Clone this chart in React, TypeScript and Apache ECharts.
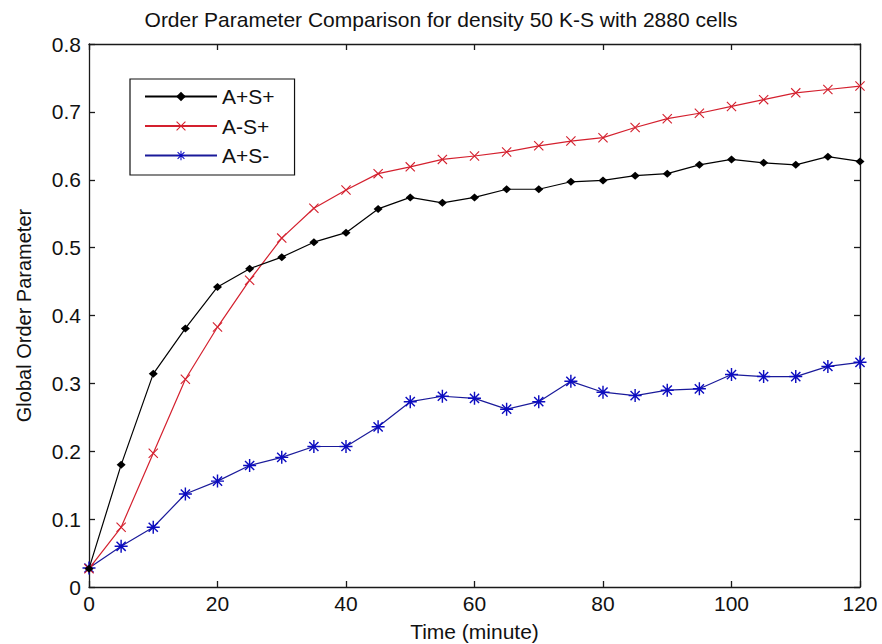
import React, { useEffect, useRef } from "react";
import * as echarts from "echarts";

const times = [0, 5, 10, 15, 20, 25, 30, 35, 40, 45, 50, 55, 60, 65, 70, 75, 80, 85, 90, 95, 100, 105, 110, 115, 120];
const seriesNames = ["A+S+", "A-S+", "A+S-"];
const apsp = [0.027, 0.18, 0.314, 0.381, 0.442, 0.469, 0.486, 0.508, 0.522, 0.557, 0.574, 0.566, 0.574, 0.586, 0.586, 0.597, 0.599, 0.606, 0.609, 0.622, 0.63, 0.625, 0.622, 0.634, 0.627];
const amsp = [0.027, 0.088, 0.197, 0.306, 0.383, 0.452, 0.514, 0.558, 0.585, 0.609, 0.619, 0.63, 0.635, 0.641, 0.65, 0.657, 0.662, 0.677, 0.69, 0.698, 0.708, 0.718, 0.728, 0.733, 0.738];
const apsm = [0.028, 0.06, 0.088, 0.137, 0.156, 0.179, 0.191, 0.207, 0.207, 0.236, 0.273, 0.281, 0.278, 0.262, 0.273, 0.303, 0.287, 0.282, 0.29, 0.292, 0.313, 0.31, 0.31, 0.325, 0.331];
const xTicks = [0, 20, 40, 60, 80, 100, 120];
const yTicks = [0, 0.1, 0.2, 0.3, 0.4, 0.5, 0.6, 0.7, 0.8];

const FONT = "'Liberation Sans', Arial, Helvetica, sans-serif";

function barsPath(angles: number[], R: number, t: number): string {
  const off = R + 1;
  let d = "path://";
  for (const a of angles) {
    const r = (a * Math.PI) / 180;
    const dx = Math.cos(r), dy = Math.sin(r);
    const nx = -dy, ny = dx;
    const h = t / 2;
    const pts = [
      [-R * dx - h * nx, -R * dy - h * ny],
      [R * dx - h * nx, R * dy - h * ny],
      [R * dx + h * nx, R * dy + h * ny],
      [-R * dx + h * nx, -R * dy + h * ny],
    ];
    d += "M" + pts.map((p) => (p[0] + off).toFixed(3) + "," + (p[1] + off).toFixed(3)).join("L") + "Z";
  }
  return d;
}

const xMarker = barsPath([45, 135], 10, 1.7);
const starMarker = barsPath([0, 45, 90, 135], 10, 2.2);

export default function App() {
  const ref = useRef<HTMLDivElement>(null);
  useEffect(() => {
    if (!ref.current) return;
    const chart = echarts.init(ref.current, undefined, { renderer: "svg" });
    const axisLine = { color: "#1a1a1a", width: 1.3 };
    const xBase = {
      type: "value" as const,
      min: xTicks[0],
      max: xTicks[xTicks.length - 1],
      interval: xTicks[1] - xTicks[0],
      splitLine: { show: false },
      axisLine: { show: true, onZero: false, lineStyle: axisLine },
      axisTick: { show: true, inside: true, length: 6, lineStyle: axisLine },
    };
    const yBase = {
      type: "value" as const,
      min: yTicks[0],
      max: yTicks[yTicks.length - 1],
      interval: 0.1,
      splitLine: { show: false },
      axisLine: { show: true, onZero: false, lineStyle: axisLine },
      axisTick: { show: true, inside: true, length: 6, lineStyle: axisLine },
    };
    const mk = (vals: number[]) => times.map((t, i) => [t, vals[i]]);
    chart.setOption({
      animation: false,
      backgroundColor: "#ffffff",
      title: {
        text: "Order Parameter Comparison for density 50 K-S with 2880 cells",
        left: "center",
        top: 9,
        padding: 0,
        textStyle: { fontSize: 21, fontWeight: "normal", color: "#111", fontFamily: FONT },
      },
      grid: { left: 89, right: 22, top: 44, bottom: 57, containLabel: false, outerBoundsMode: "none" },
      legend: {
        left: 130,
        top: 79,
        orient: "vertical",
        itemWidth: 72,
        itemHeight: 12,
        itemGap: 8.5,
        padding: [7, 20, 9, 14],
        borderColor: "#111",
        borderWidth: 1.2,
        backgroundColor: "#fff",
        textStyle: { fontSize: 21, color: "#111", fontFamily: FONT },
        data: seriesNames,
      },
      xAxis: [
        {
          ...xBase,
          position: "bottom",
          axisLabel: { fontSize: 21, color: "#111", margin: 6, fontFamily: FONT },
          name: "Time (minute)",
          nameLocation: "middle",
          nameGap: 34,
          nameTextStyle: { fontSize: 21, color: "#111", fontFamily: FONT },
        },
        { ...xBase, position: "top", axisLabel: { show: false } },
      ],
      yAxis: [
        {
          ...yBase,
          position: "left",
          axisLabel: { fontSize: 21, color: "#111", margin: 8, fontFamily: FONT },
          name: "Global Order Parameter",
          nameLocation: "middle",
          nameGap: 55,
          nameTextStyle: { fontSize: 20, color: "#111", fontFamily: FONT },
        },
        { ...yBase, position: "right", axisLabel: { show: false } },
      ],
      series: [
        {
          name: seriesNames[0],
          type: "line",
          data: mk(apsp),
          symbol: "diamond",
          symbolSize: [9, 8],
          clip: false,
          itemStyle: { color: "#000" },
          lineStyle: { color: "#000", width: 1.2 },
          z: 3,
        },
        {
          name: seriesNames[1],
          type: "line",
          data: mk(amsp),
          symbol: xMarker,
          symbolSize: 10,
          clip: false,
          itemStyle: { color: "#d4202e" },
          lineStyle: { color: "#d4202e", width: 1.2 },
          z: 2,
        },
        {
          name: seriesNames[2],
          type: "line",
          data: mk(apsm),
          symbol: starMarker,
          symbolSize: 13,
          clip: false,
          itemStyle: { color: "#0c0cc0" },
          lineStyle: { color: "#1a1a9a", width: 1.2 },
          z: 1,
        },
      ],
    });
    return () => chart.dispose();
  }, []);
  return <div ref={ref} style={{ position: "fixed", left: 0, top: 0, width: 882, height: 644 }} />;
}
